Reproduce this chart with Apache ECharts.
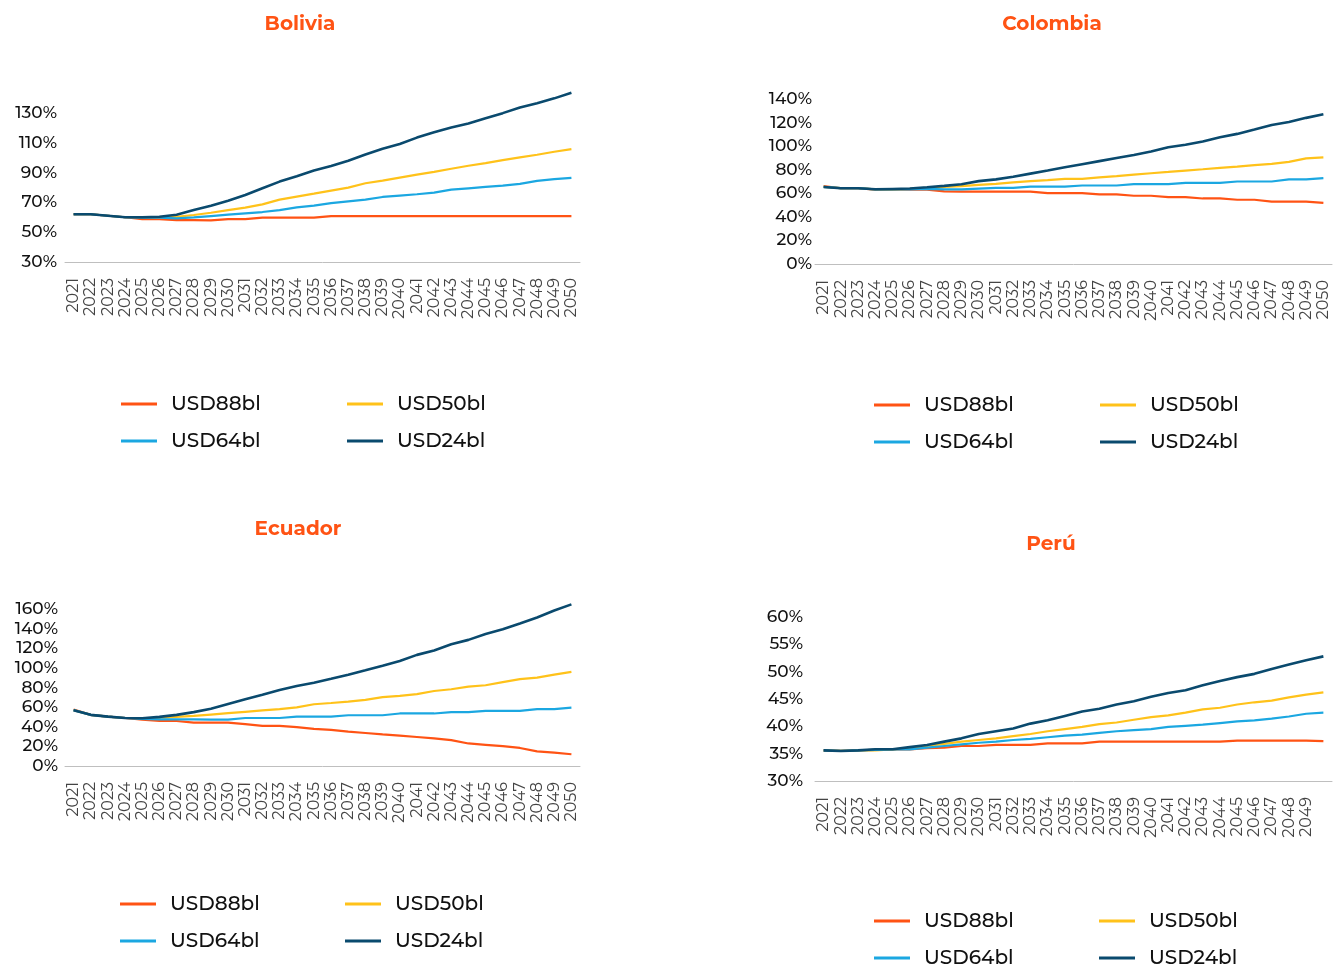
<!DOCTYPE html>
<html>
<head>
<meta charset="utf-8">
<script src="https://cdn.jsdelivr.net/npm/echarts@6/dist/echarts.min.js"></script>
<style>
  html, body { margin: 0; padding: 0; background: #fff; }
  #chart { width: 1340px; height: 967px; }
</style>
</head>
<body>
<div id="chart"></div>
<script>
const years = ['2021', '2022', '2023', '2024', '2025', '2026', '2027', '2028', '2029', '2030',
  '2031', '2032', '2033', '2034', '2035', '2036', '2037', '2038', '2039', '2040',
  '2041', '2042', '2043', '2044', '2045', '2046', '2047', '2048', '2049', '2050'];

const seriesNames = ['USD88bl', 'USD50bl', 'USD64bl', 'USD24bl'];
const seriesColors = ['#FF5314', '#FFC21A', '#1BA7E1', '#0A4A6E'];

// Bolivia
const boliviaUSD88 = [62, 62, 61, 60, 58.8, 58.8, 58.1, 58.1, 57.9, 58.8, 58.8, 59.7, 59.7, 59.7, 59.7,
  60.8, 60.8, 60.8, 60.8, 60.8, 60.8, 60.8, 60.8, 60.8, 60.8, 60.8, 60.8, 60.8, 60.8, 60.8];
const boliviaUSD50 = [62, 62, 61, 60, 60, 60, 60.3, 61.5, 63, 64.8, 66.4, 68.6, 71.8, 73.8, 75.8,
  77.9, 79.9, 82.8, 84.6, 86.6, 88.6, 90.4, 92.5, 94.5, 96.3, 98.3, 100.1, 101.9, 103.9, 105.7];
const boliviaUSD64 = [62, 62, 61, 60, 59.7, 59.7, 59.2, 59.9, 60.8, 61.7, 62.6, 63.5, 64.8, 66.6, 67.8,
  69.5, 70.7, 71.8, 73.6, 74.5, 75.4, 76.5, 78.5, 79.4, 80.3, 81.2, 82.4, 84.4, 85.5, 86.4];
const boliviaUSD24 = [62, 62, 61, 60, 60, 60.3, 61.7, 64.8, 67.7, 71.1, 74.9, 79.4, 83.9, 87.5, 91.3,
  94.3, 97.9, 102.1, 105.9, 109.1, 113.4, 117, 120.1, 122.8, 126.4, 129.8, 133.6, 136.5, 139.7, 143.5];

// Colombia
const colombiaUSD88 = [66, 64.3, 64.3, 63.1, 63.1, 63.1, 63.1, 61.7, 61.4, 61.4, 61.4, 61.4, 61.4, 60.2, 60.2,
  60.2, 59.1, 59.1, 57.9, 57.9, 56.8, 56.8, 55.6, 55.6, 54.5, 54.5, 53, 53, 53, 51.9];
const colombiaUSD50 = [65.4, 64.3, 64.3, 63.4, 63.4, 63.7, 64.6, 65.4, 66, 67.1, 68, 69.2, 70.3, 71.2, 72.3,
  72.3, 73.5, 74.6, 75.8, 77, 78.1, 79.3, 80.4, 81.6, 82.7, 83.9, 85, 86.7, 89.6, 90.5];
const colombiaUSD64 = [65.4, 64.3, 64.3, 63.4, 63.4, 63.4, 63.7, 63.4, 63.4, 64, 64.6, 64.6, 65.7, 65.7, 65.7,
  66.6, 66.6, 66.6, 67.7, 67.7, 67.7, 68.9, 68.9, 68.9, 70, 70, 70, 71.8, 71.8, 72.9];
const colombiaUSD24 = [65.4, 64.3, 64.3, 63.4, 63.7, 64, 65.1, 66.3, 67.7, 70.3, 71.8, 74.1, 76.7, 79.3, 82.1,
  84.7, 87.3, 89.9, 92.5, 95.4, 99.1, 101.2, 104, 107.5, 110.4, 114.1, 117.9, 120.5, 124, 127];

// Ecuador
const ecuadorUSD88 = [57.7, 52.2, 50.4, 49, 47.3, 45.9, 45.9, 44.2, 44.2, 44.2, 42.8, 41, 41, 39.6, 37.9,
  36.9, 35.1, 33.7, 32.3, 31, 29.6, 28.2, 26.4, 23, 21.6, 20.2, 18.4, 15, 13.6, 12];
const ecuadorUSD50 = [57, 52.2, 50.4, 49, 48.7, 49, 50.1, 51.1, 52.5, 53.9, 55.3, 56.7, 58.1, 59.8, 63,
  64.3, 65.7, 67.5, 70.3, 71.6, 73.4, 76.5, 78.3, 81, 82.4, 85.6, 88.7, 90.1, 93.2, 96];
const ecuadorUSD64 = [57, 52.2, 50.4, 49, 48, 47.6, 47.6, 47.6, 47.3, 47.3, 49, 49, 49, 50.4, 50.4,
  50.4, 51.8, 51.8, 51.8, 53.6, 53.6, 53.6, 55, 55, 56.3, 56.3, 56.3, 58.1, 58.1, 59.5];
const ecuadorUSD24 = [57, 52.2, 50.4, 49, 48.7, 50.1, 52.2, 55, 58.4, 63.3, 68.2, 72.7, 77.6, 81.7, 84.9,
  89, 93.2, 97.7, 102.3, 107.1, 113.4, 117.9, 124.2, 128.7, 134.6, 139.5, 145.4, 151.6, 158.6, 164.9];

// Perú
const peruUSD88 = [35.6, 35.5, 35.6, 35.7, 35.8, 35.8, 36, 36.1, 36.4, 36.4, 36.6, 36.6, 36.6, 36.9, 36.9,
  36.9, 37.2, 37.2, 37.2, 37.2, 37.2, 37.2, 37.2, 37.2, 37.4, 37.4, 37.4, 37.4, 37.4, 37.3];
const peruUSD50 = [35.6, 35.5, 35.6, 35.6, 35.8, 36, 36.4, 36.8, 37.2, 37.5, 37.8, 38.2, 38.6, 39.1, 39.5,
  39.9, 40.4, 40.7, 41.2, 41.7, 42, 42.5, 43.1, 43.4, 44, 44.4, 44.7, 45.3, 45.8, 46.2];
const peruUSD64 = [35.6, 35.5, 35.6, 35.7, 35.8, 35.8, 36.1, 36.4, 36.7, 37, 37.2, 37.5, 37.7, 38, 38.3,
  38.5, 38.8, 39.1, 39.3, 39.5, 39.9, 40.1, 40.3, 40.6, 40.9, 41.1, 41.4, 41.8, 42.3, 42.5];
const peruUSD24 = [35.6, 35.5, 35.6, 35.8, 35.8, 36.2, 36.6, 37.2, 37.8, 38.6, 39.1, 39.6, 40.5, 41.1, 41.9,
  42.7, 43.2, 44, 44.6, 45.4, 46.1, 46.6, 47.5, 48.3, 49, 49.6, 50.5, 51.3, 52.1, 52.8];

const FONT = "'Montserrat', 'DejaVu Sans', sans-serif";

const panels = [
  {
    title: 'Bolivia', titleX: 300, titleY: 14,
    grid: { left: 65, right: 760, top: 83, bottom: 705 },
    y: { min: 30, max: 150, interval: 20 },
    data: [boliviaUSD88, boliviaUSD50, boliviaUSD64, boliviaUSD24],
    legendX: [121, 347], legendY: [404, 441],
    labelMargin: 8, hideLast: false,
  },
  {
    title: 'Colombia', titleX: 1052, titleY: 14,
    grid: { left: 815, right: 8, top: 99, bottom: 703 },
    y: { min: 0, max: 140, interval: 20 },
    data: [colombiaUSD88, colombiaUSD50, colombiaUSD64, colombiaUSD24],
    legendX: [874, 1100], legendY: [405, 442],
    labelMargin: 3, hideLast: false,
  },
  {
    title: 'Ecuador', titleX: 298, titleY: 519,
    grid: { left: 65, right: 760, top: 599.4, bottom: 201 },
    y: { min: 0, max: 170, interval: 20 },
    data: [ecuadorUSD88, ecuadorUSD50, ecuadorUSD64, ecuadorUSD24],
    legendX: [120, 345], legendY: [904, 941],
    labelMargin: 7, hideLast: false,
  },
  {
    title: 'Perú', titleX: 1051, titleY: 534,
    grid: { left: 815, right: 8, top: 617, bottom: 186 },
    y: { min: 30, max: 60, interval: 5 },
    data: [peruUSD88, peruUSD50, peruUSD64, peruUSD24],
    legendX: [874, 1099], legendY: [921, 958],
    labelMargin: 12, hideLast: true,
  },
];

const chart = echarts.init(document.getElementById('chart'));

const titles = [];
const grids = [];
const xAxes = [];
const yAxes = [];
const series = [];
const legends = [];

panels.forEach((p, i) => {
  titles.push({
    text: p.title,
    left: p.titleX,
    top: p.titleY,
    padding: 0,
    textAlign: 'center',
    textStyle: { color: '#FF5314', fontSize: 20, fontWeight: 'bold', fontFamily: FONT },
  });
  grids.push(p.grid);
  xAxes.push({
    type: 'category',
    gridIndex: i,
    data: years,
    boundaryGap: true,
    axisLine: { lineStyle: { color: '#BFBFBF', width: 1 } },
    axisTick: { show: false },
    axisLabel: {
      rotate: 90,
      interval: 0,
      margin: 16,
      color: '#444',
      fontSize: 16,
      fontFamily: FONT,
      formatter: (v) => (p.hideLast && v === '2050' ? '' : v),
    },
  });
  yAxes.push({
    type: 'value',
    gridIndex: i,
    min: p.y.min,
    max: p.y.max,
    interval: p.y.interval,
    splitLine: { show: false },
    axisLine: { show: false },
    axisTick: { show: false },
    axisLabel: {
      // Bolivia and Ecuador stop above the last labelled tick
      showMaxLabel: p.y.max === 140 || p.y.max === 60,
      formatter: '{value}%',
      color: '#111',
      fontSize: 17,
      fontWeight: 500,
      fontFamily: FONT,
      margin: p.labelMargin,
    },
  });
  seriesNames.forEach((name, k) => {
    series.push({
      name,
      type: 'line',
      xAxisIndex: i,
      yAxisIndex: i,
      data: p.data[k],
      symbol: 'none',
      z: k === 3 ? 4 : 2,
      lineStyle: { color: seriesColors[k], width: k === 3 ? 2.6 : 2.2 },
      itemStyle: { color: seriesColors[k] },
    });
  });
  // legend order: row 1 = 88, 50 ; row 2 = 64, 24
  const layout = [[0, 0, 0], [1, 1, 0], [2, 0, 1], [3, 1, 1]];
  layout.forEach(([k, col, row]) => {
    legends.push({
      data: [seriesNames[k]],
      left: p.legendX[col],
      top: p.legendY[row] - 10,
      padding: 0,
      icon: 'rect',
      itemWidth: 36,
      itemHeight: 3,
      selectedMode: false,
      textStyle: {
        color: '#111',
        fontSize: 20,
        fontWeight: 500,
        fontFamily: FONT,
        padding: [0, 0, 0, 9],
      },
    });
  });
});

chart.setOption({
  backgroundColor: '#fff',
  animation: false,
  title: titles,
  grid: grids,
  xAxis: xAxes,
  yAxis: yAxes,
  legend: legends,
  series,
});
</script>
</body>
</html>
